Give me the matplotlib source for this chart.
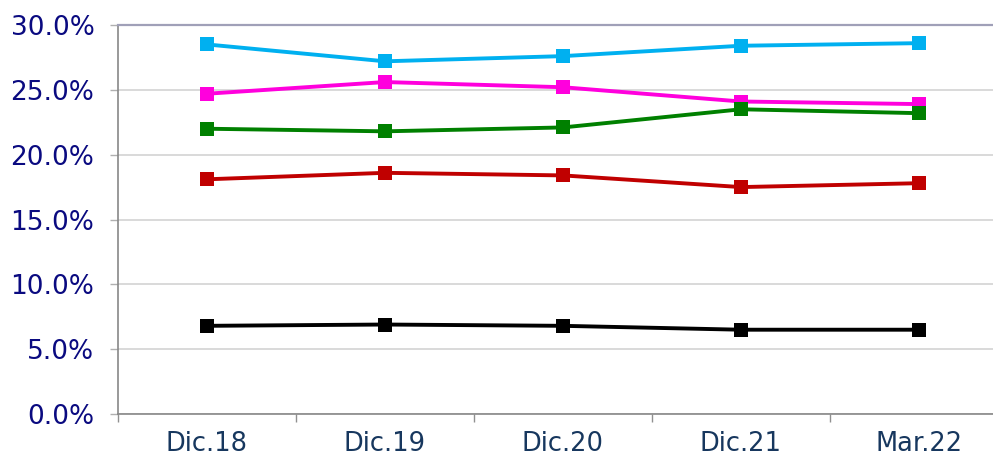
import matplotlib
matplotlib.use("Agg")
import matplotlib.pyplot as plt
from matplotlib.ticker import FuncFormatter, FixedLocator
import numpy as np

categories = ["Dic.18", "Dic.19", "Dic.20", "Dic.21", "Mar.22"]

serie_cyan = [28.5, 27.2, 27.6, 28.4, 28.6]
serie_magenta = [24.7, 25.6, 25.2, 24.1, 23.9]
serie_green = [22.0, 21.8, 22.1, 23.5, 23.2]
serie_red = [18.1, 18.6, 18.4, 17.5, 17.8]
serie_black = [6.8, 6.9, 6.8, 6.5, 6.5]

series = [
    (serie_cyan, "#00B0F0"),
    (serie_magenta, "#FF00DD"),
    (serie_green, "#008000"),
    (serie_red, "#C00000"),
    (serie_black, "#000000"),
]

fig = plt.figure(figsize=(9.93, 4.58), dpi=100)
ax = fig.add_axes([118 / 993, 44 / 458, 890 / 993, 389 / 458])

x = np.arange(len(categories))
for vals, col in series:
    ax.plot(x, vals, color=col, linewidth=2.8, marker="s", markersize=10.5,
            markeredgewidth=0, zorder=3, clip_on=False)

ax.set_xlim(-0.5, len(categories) - 0.5)
ax.set_ylim(0, 30)

# y axis: gridlines every 5%
ax.yaxis.set_major_locator(FixedLocator(np.arange(0, 30.1, 5)))
ax.yaxis.set_major_formatter(FuncFormatter(lambda v, p: f"{v:.1f}%"))
ax.grid(axis="y", color="#d9d9d9", linewidth=1.4, zorder=0)
ax.tick_params(axis="y", which="major", length=6, width=1, color="#b0b0b0",
               labelsize=19, labelcolor="#0A0A80", pad=11)

# x axis: boundary ticks, category labels centered
ax.xaxis.set_major_locator(FixedLocator(np.arange(-0.5, len(categories), 1.0)))
ax.xaxis.set_major_formatter(FuncFormatter(lambda v, p: ""))
ax.xaxis.set_minor_locator(FixedLocator(x))
ax.set_xticklabels(categories, minor=True)
ax.tick_params(axis="x", which="major", length=6, width=1, color="#909090")
ax.tick_params(axis="x", which="minor", length=0, labelsize=18.5,
               labelcolor="#17375E", pad=12.5)

for side in ["left", "bottom"]:
    ax.spines[side].set_color("#888888")
    ax.spines[side].set_linewidth(1.2)
ax.spines["top"].set_color("#A0A0B8")
ax.spines["top"].set_linewidth(1.6)
ax.spines["right"].set_visible(False)

fig.savefig("out.png", dpi=100)
